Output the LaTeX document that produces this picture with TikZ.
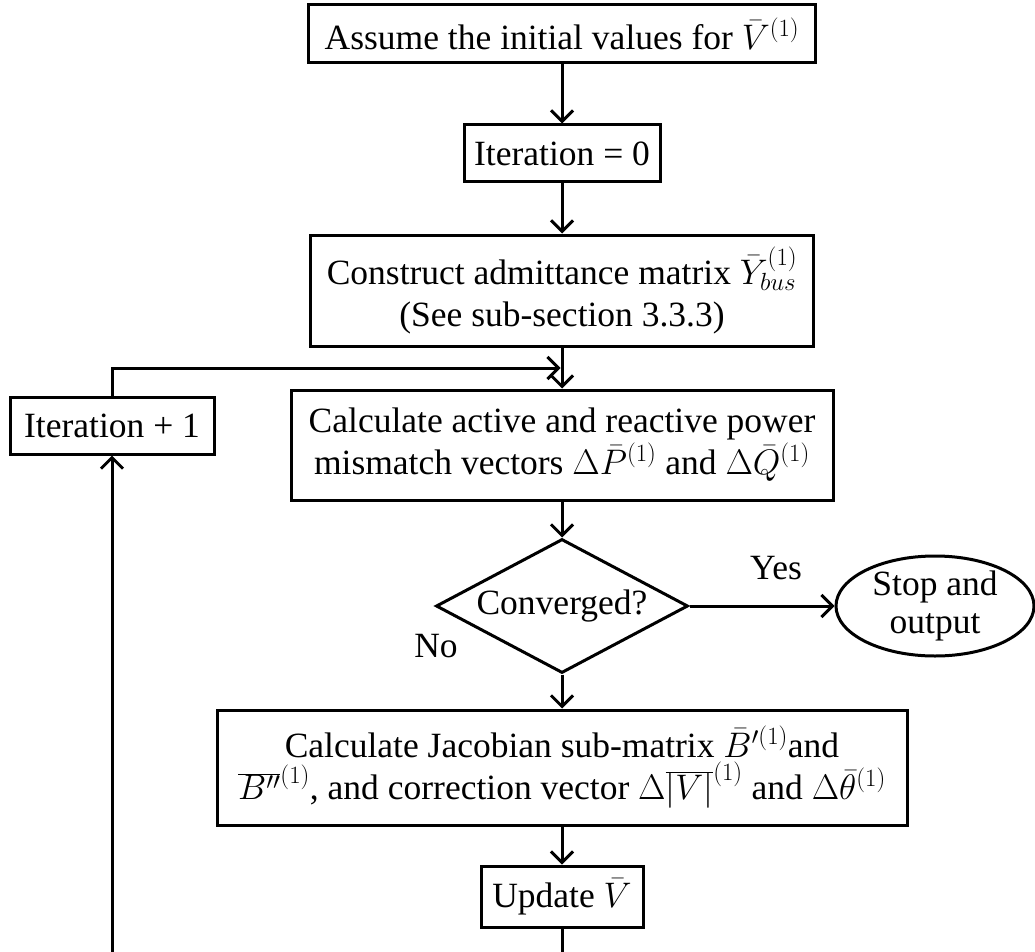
\RequirePackage{fix-cm}
\documentclass[tikz,border=0pt]{standalone}
\usepackage{fontspec}
\setmainfont{Liberation Serif}
\usetikzlibrary{shapes.geometric,arrows.meta}
\begin{document}
\begin{tikzpicture}[x=1pt,y=-1pt,
  every node/.style={font=\fontsize{35.5}{42}\selectfont},
  stepbox/.style={draw,line width=3pt,inner sep=0pt,align=center},
  flow/.style={line width=3pt,-{Straight Barb[length=11pt,width=22pt,line width=3pt]}},
  link/.style={line width=3pt}]
\useasboundingbox (0,0) rectangle (1035,952);

% process steps
\node[stepbox,minimum width=507pt,minimum height=58pt] (init) at (562,34)
  {Assume the initial values for $\bar{V}^{(1)}$};
\node[stepbox,minimum width=196pt,minimum height=57pt] (iter0) at (562,153.5)
  {Iteration = 0};
\node[stepbox,minimum width=503pt,minimum height=111pt] (ybus) at (562,290.5)
  {Construct admittance matrix $\bar{Y}_{bus}^{(1)}$\\(See sub-section 3.3.3)};
\node[stepbox,minimum width=204pt,minimum height=57pt] (inc) at (112,425.5)
  {Iteration + 1};
\node[stepbox,minimum width=542pt,minimum height=110pt] (mism) at (562,445)
  {Calculate active and reactive power\\mismatch vectors $\Delta\bar{P}^{(1)}$ and $\Delta\bar{Q}^{(1)}$};
\node[draw,diamond,line width=3pt,aspect=1.88,minimum width=252pt,minimum height=134pt,inner sep=0pt] (conv) at (562,606)
  {Converged?};
\node[draw,ellipse,line width=3pt,minimum width=198pt,minimum height=100pt] (stop) at (935,606) {};
\node[align=center,font=\fontsize{35.5}{38}\selectfont] (stoptext) at (stop.center) {Stop and\\output};
\node (yes) at (776,568) {Yes};
\node (no) at (436,646) {No};
\node[stepbox,minimum width=690pt,minimum height=115pt] (jac) at (562,767.5)
  {Calculate Jacobian sub-matrix $\bar{B}'^{(1)}$and\\$\overline{B''}^{(1)}$, and correction vector $\Delta\overline{|V|}^{(1)}$ and $\Delta\bar{\theta}^{(1)}$};
\node[stepbox,minimum width=162pt,minimum height=61pt] (upd) at (562,896.5)
  {Update $\bar{V}$};

% loop-back points
\coordinate (updend) at (562,952);
\coordinate (loopend) at (112,952);
\coordinate (join) at (560.5,368);

% connectors
\draw[flow] (init) -- (iter0);
\draw[flow] (iter0) -- (ybus);
\draw[flow] (ybus) -- (mism);
\draw[flow] (inc.north) |- (join);
\draw[flow] (mism) -- (conv);
\draw[flow] (conv) -- (stop);
\draw[flow] (conv) -- (jac);
\draw[flow] (jac) -- (upd);
\draw[link] (upd) -- (updend);
\draw[flow] (loopend) -- (inc);
\end{tikzpicture}
\end{document}
